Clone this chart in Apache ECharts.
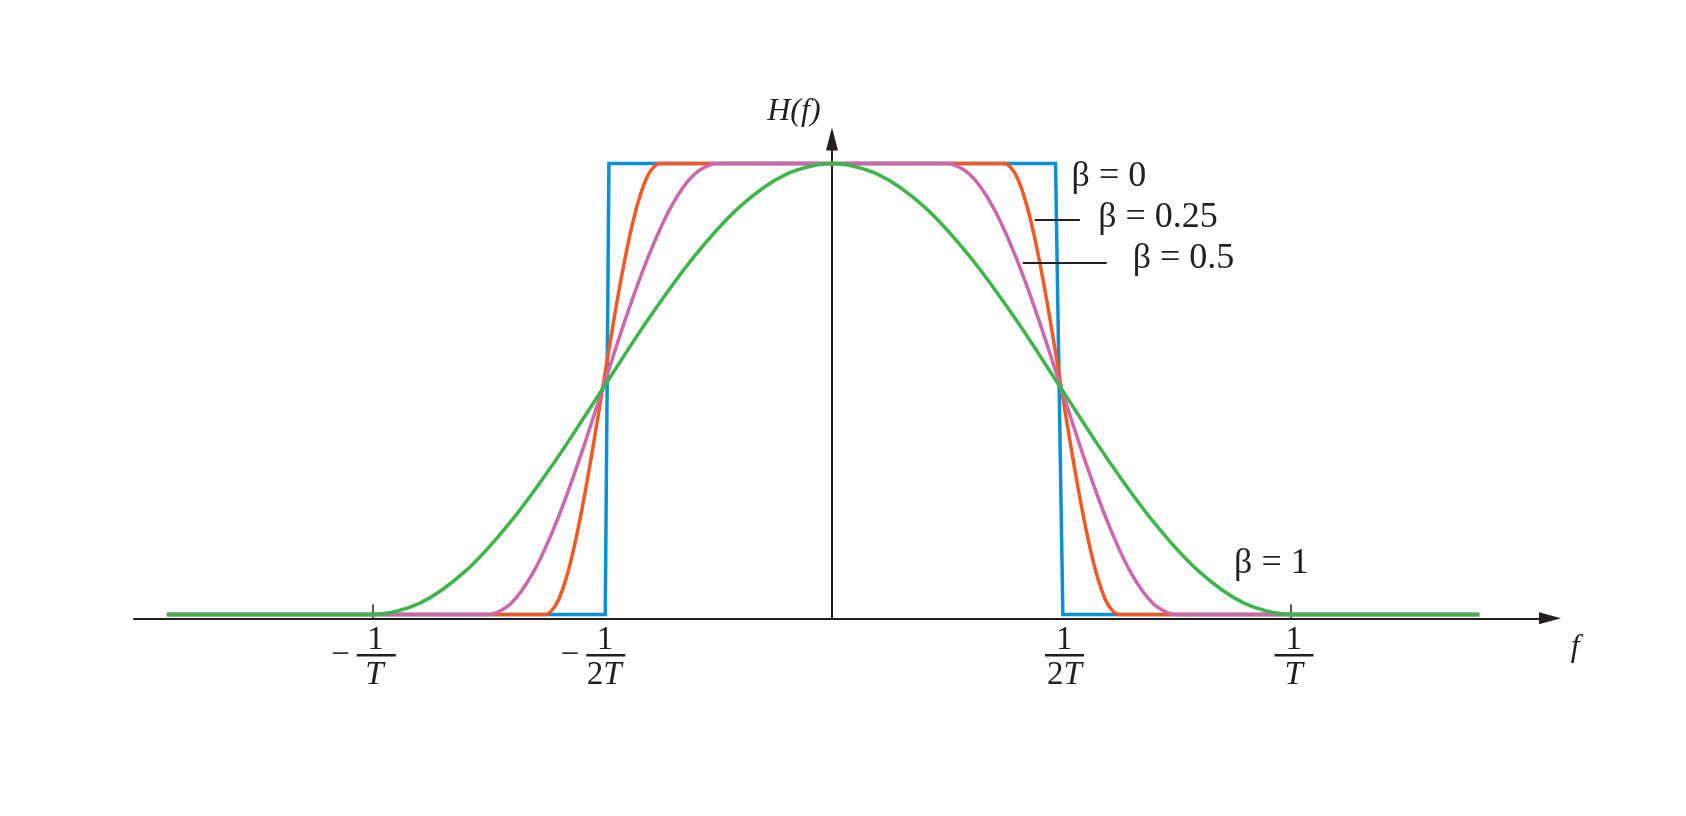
<!DOCTYPE html>
<html>
<head>
<meta charset="utf-8">
<script src="https://cdn.jsdelivr.net/npm/echarts@6/dist/echarts.min.js"></script>
<style>
html,body{margin:0;padding:0;background:#fff;}
#chart{width:1686px;height:816px;}
</style>
</head>
<body>
<div id="chart"></div>
<script>
// ---- data (f in units of 1/T, H normalised) ----
const fBlue = [-1.449, -0.494, -0.486, 0.487, 0.503, 1.41];
const hBlue = [0, 0, 1, 1, 0, 0];

const fOrange = [-1.449, -0.675, -0.625, -0.6, -0.575, -0.55, -0.525, -0.5, -0.475, -0.45, -0.425, -0.4, -0.375, -0.325, 0,
                 0.325, 0.375, 0.4, 0.425, 0.45, 0.475, 0.5, 0.525, 0.55, 0.575, 0.6, 0.625, 0.675, 1.41];
const hOrange = [0, 0, 0, 0.024, 0.095, 0.206, 0.345, 0.5, 0.655, 0.794, 0.905, 0.976, 1, 1, 1,
                 1, 1, 0.976, 0.905, 0.794, 0.655, 0.5, 0.345, 0.206, 0.095, 0.024, 0, 0, 0];

const fPink = [-1.449, -0.8, -0.75, -0.7, -0.65, -0.6, -0.55, -0.5, -0.45, -0.4, -0.35, -0.3, -0.25, -0.2, 0,
               0.2, 0.25, 0.3, 0.35, 0.4, 0.45, 0.5, 0.55, 0.6, 0.65, 0.7, 0.75, 0.8, 1.41];
const hPink = [0, 0, 0, 0.024, 0.095, 0.206, 0.345, 0.5, 0.655, 0.794, 0.905, 0.976, 1, 1, 1,
               1, 1, 0.976, 0.905, 0.794, 0.655, 0.5, 0.345, 0.206, 0.095, 0.024, 0, 0, 0];

const fGreen = [-1.449, -1.1, -1.0, -0.9, -0.8, -0.7, -0.6, -0.5, -0.4, -0.3, -0.2, -0.1, 0,
                0.1, 0.2, 0.3, 0.4, 0.5, 0.6, 0.7, 0.8, 0.9, 1.0, 1.1, 1.41];
const hGreen = [0, 0, 0, 0.024, 0.095, 0.206, 0.345, 0.5, 0.655, 0.794, 0.905, 0.976, 1,
                0.976, 0.905, 0.794, 0.655, 0.5, 0.345, 0.206, 0.095, 0.024, 0, 0, 0];

// axis tick labels
const tickVals = [-1, -0.5, 0.5, 1];
const tickNum = ['1', '1', '1', '1'];
const tickDen = ['T', '2T', '2T', 'T'];

// annotations
const annText = ['H(f)', 'β = 0', 'β = 0.25', 'β = 0.5', 'β = 1', 'f'];
const annF = [-0.083, 0.522, 0.580, 0.655, 0.876, 1.619];
const annH = [1.114, 0.970, 0.881, 0.789, 0.112, -0.074];
const annItalic = [true, false, false, false, false, true];
const annAlign = ['center', 'left', 'left', 'left', 'left', 'center'];

// leader lines
const leadF0 = [0.442, 0.4155];
const leadF1 = [0.540, 0.5985];
const leadH = [0.876, 0.781];

// ---- chart ----
const INK = '#231F20';
const FONT = '"Liberation Serif", "DejaVu Serif", serif';
const pairs = (xs, ys) => xs.map((x, i) => [x, ys[i]]);

function lineSeries(name, xs, ys, color, smooth) {
  return {
    name: name, type: 'line', data: pairs(xs, ys),
    showSymbol: false, symbol: 'none', smooth: smooth, silent: true,
    lineStyle: { color: color, width: 3.5, join: 'miter' },
    clip: false
  };
}

const chart = echarts.init(document.getElementById('chart'), null, { renderer: 'canvas' });

const FS = 33;
const rich = {
  num: { fontSize: FS, fontFamily: FONT, color: INK, lineHeight: 26, align: 'left' },
  den: { fontSize: FS, fontFamily: FONT, fontStyle: 'italic', color: INK, lineHeight: 36, align: 'left' },
  d2: { fontSize: FS, fontFamily: FONT, color: INK, lineHeight: 36, align: 'left' },
  pnn: { width: 36, lineHeight: 26, align: 'left' },
  pnp: { width: 11, lineHeight: 26, align: 'left' },
  pTn: { width: 34, lineHeight: 36, align: 'left' },
  p2Tn: { width: 26, lineHeight: 36, align: 'left' },
  pTp: { width: 10, lineHeight: 36, align: 'left' },
  p2Tp: { width: 2, lineHeight: 36, align: 'left' },
  minus: { fontSize: FS, fontFamily: FONT, color: INK, lineHeight: 4, align: 'left' },
  gap: { width: 7, lineHeight: 4, align: 'left' },
  bar: { width: 39, height: 2.6, lineHeight: 4, backgroundColor: INK, align: 'left' },
  rpad: { width: 25, lineHeight: 4, align: 'left' }
};

function tickLabel(v) {
  const i = tickVals.findIndex(t => Math.abs(t - v) < 1e-6);
  if (i < 0) return '';
  const neg = tickVals[i] < 0;
  const den = tickDen[i];
  const denTxt = den.length > 1 ? '{d2|' + den.slice(0, -1) + '}{den|' + den.slice(-1) + '}' : '{den|' + den + '}';
  const padDen = neg ? (den.length > 1 ? 'p2Tn' : 'pTn') : (den.length > 1 ? 'p2Tp' : 'pTp');
  const l1 = '{' + (neg ? 'pnn' : 'pnp') + '|}{num|' + tickNum[i] + '}';
  const l2 = neg ? '{minus|−}{gap|}{bar|}{rpad|}' : '{bar|}';
  const l3 = '{' + padDen + '|}' + denTxt;
  return l1 + '\n' + l2 + '\n' + l3;
}

const annData = annText.map((t, i) => ({
  value: [annF[i], annH[i]],
  label: {
    show: true, position: 'inside', formatter: t, align: annAlign[i], verticalAlign: 'middle',
    fontFamily: FONT, fontSize: i === 0 ? 32 : (i === 5 ? 32 : 36),
    fontStyle: annItalic[i] ? 'italic' : 'normal', color: INK,
    textBorderWidth: 0, textBorderColor: 'transparent', opacity: 1
  }
}));

const leaders = leadF0.map((f0, i) => [{ coord: [f0, leadH[i]] }, { coord: [leadF1[i], leadH[i]] }]);

const option = {
  backgroundColor: '#ffffff',
  animation: false,
  grid: { left: 134, right: 136, top: 139, bottom: 197.7, containLabel: false, outerBoundsMode: 'none' },
  xAxis: {
    type: 'value', min: -1.5207, max: 1.5643,
    splitLine: { show: false },
    axisLine: { show: true, onZero: false, symbol: ['none', 'triangle'], symbolSize: [12, 22],
                lineStyle: { color: INK, width: 2 } },
    axisTick: { show: true, inside: true, length: 14, customValues: [-1, 1], lineStyle: { color: INK, width: 1.5 } },
    axisLabel: { show: true, customValues: tickVals, margin: 9, formatter: tickLabel, rich: rich,
                 padding: [0, 0, 0, 6],
                 color: INK, hideOverlap: false, showMinLabel: true, showMaxLabel: true }
  },
  yAxis: {
    type: 'value', min: -0.0084, max: 1.0543,
    splitLine: { show: false },
    axisLine: { show: true, onZero: true, symbol: ['none', 'triangle'], symbolSize: [12, 23],
                lineStyle: { color: INK, width: 2 } },
    axisTick: { show: false },
    axisLabel: { show: false }
  },
  series: [
    lineSeries('β = 0', fBlue, hBlue, '#0A90D6', false),
    lineSeries('β = 0.25', fOrange, hOrange, '#F15A24', 0.3),
    lineSeries('β = 0.5', fPink, hPink, '#CC67AC', 0.3),
    lineSeries('β = 1', fGreen, hGreen, '#3DB54A', 0.3),
    {
      name: 'annotations', type: 'scatter', data: annData, symbolSize: 0, silent: true, clip: false,
      itemStyle: { color: INK, opacity: 1 },
      markLine: {
        silent: true, symbol: ['none', 'none'], label: { show: false },
        lineStyle: { color: INK, width: 2, type: 'solid' },
        emphasis: { disabled: true },
        data: leaders
      }
    }
  ]
};
chart.setOption(option);
</script>
</body>
</html>
